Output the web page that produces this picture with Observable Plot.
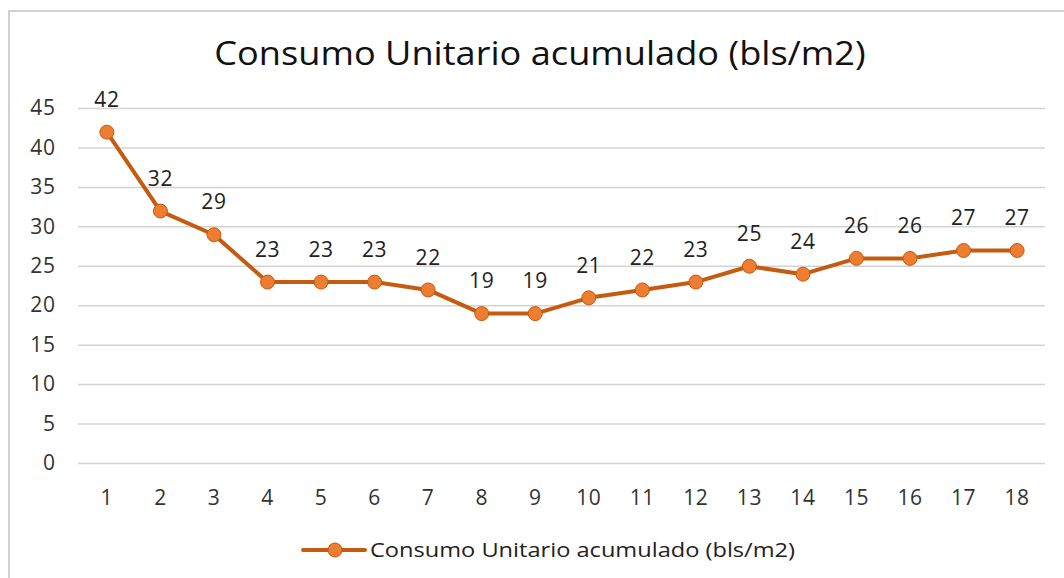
<!DOCTYPE html>
<html>
<head>
<meta charset="utf-8">
<script src="https://cdn.jsdelivr.net/npm/d3@7"></script>
<script src="https://cdn.jsdelivr.net/npm/@observablehq/plot@0.6"></script>
<style>
  html, body { margin: 0; padding: 0; background: #fff; }
  #wrap { position: relative; width: 1064px; height: 578px; overflow: hidden; font-family: "Open Sans", sans-serif; }
  #frame { position: absolute; left: 8px; top: 10px; width: 1080px; height: 600px; border: 2px solid #d0d0d0; box-sizing: border-box; }
  #title { position: absolute; left: 0; width: 1080px; top: 37px; text-align: center; font-size: 32px; color: #111; line-height: 1; transform: scaleX(1.13); transform-origin: 540px 0; }
  #chart { position: absolute; left: 0; top: 0; }
  #legend { position: absolute; top: 536px; left: 300px; display: flex; align-items: center; font-size: 19.5px; color: #222; }
  #legend span { display: inline-block; transform: scaleX(1.21); transform-origin: 0 50%; }
</style>
</head>
<body>
<div id="wrap">
  <div id="frame"></div>
  <div id="chart"></div>
  <div id="title">Consumo Unitario acumulado (bls/m2)</div>
  <div id="legend">
    <svg width="68" height="24" style="margin-right:2px"><line x1="3" y1="12" x2="65" y2="12" stroke="#c55a11" stroke-width="4" stroke-linecap="round"/><circle cx="35" cy="12" r="7" fill="#ed7d31" stroke="#c55a11" stroke-width="1"/></svg>
    <span>Consumo Unitario acumulado (bls/m2)</span>
  </div>
</div>
<script>
const periods = [1,2,3,4,5,6,7,8,9,10,11,12,13,14,15,16,17,18];
const values = [42,32,29,23,23,23,22,19,19,21,22,23,25,24,26,26,27,27];
const yTicks = [0,5,10,15,20,25,30,35,40,45];
const data = periods.map((p, i) => ({p, v: values[i]}));

const chart = Plot.plot({
  width: 1064,
  height: 578,
  marginTop: 108,
  marginBottom: 115,
  marginLeft: 78,
  marginRight: 19,
  style: {fontFamily: "Open Sans, sans-serif", fontSize: "21px", color: "#333", background: "transparent", letterSpacing: "0.6px"},
  x: {type: "point", domain: periods, padding: 0.53, round: false, label: null},
  y: {domain: [0, 45], label: null},
  marks: [
    Plot.ruleY(yTicks, {stroke: "#d3d3d3", strokeWidth: 1.5, strokeOpacity: 1}),
    Plot.axisY({ticks: yTicks, tickSize: 0, tickPadding: 23, fontSize: 21, label: null}),
    Plot.axisX({tickSize: 0, tickPadding: 27, fontSize: 21, label: null}),
    Plot.line(data, {x: "p", y: "v", stroke: "#c55a11", strokeWidth: 4}),
    Plot.dot(data, {x: "p", y: "v", r: 7, fill: "#ed7d31", stroke: "#c55a11", strokeWidth: 1}),
    Plot.text(data, {x: "p", y: "v", text: d => String(d.v), dy: -32, fontSize: 21, fill: "#222"})
  ]
});
document.getElementById("chart").appendChild(chart);
</script>
</body>
</html>
